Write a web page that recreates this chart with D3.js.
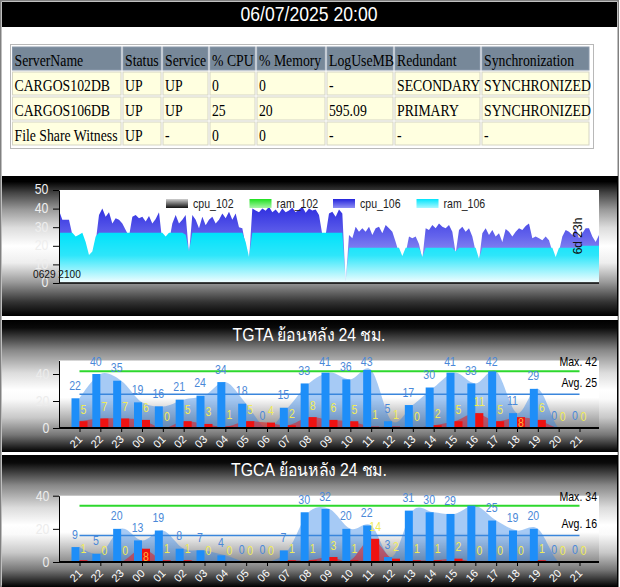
<!DOCTYPE html>
<html><head><meta charset="utf-8">
<script src="https://cdn.jsdelivr.net/npm/d3@7"></script>
<style>html,body{margin:0;padding:0;background:#fff;overflow:hidden}</style>
</head><body>
<svg id="c" width="620" height="587"></svg>
<script>
// ---------------- DATA ----------------
const titleText = "06/07/2025 20:00";
const tableHeaders = ["ServerName","Status","Service","% CPU","% Memory","LogUseMB","Redundant","Synchronization"];
const serverNames = ["CARGOS102DB","CARGOS106DB","File Share Witness"];
const statusCol = ["UP","UP","UP"];
const serviceCol = ["UP","UP","-"];
const cpuCol = ["0","25","0"];
const memCol = ["0","20","0"];
const logCol = ["-","595.09","-"];
const redundantCol = ["SECONDARY","PRIMARY","-"];
const syncCol = ["SYNCHRONIZED","SYNCHRONIZED","-"];

const trendLegend = ["cpu_102","ram_102","cpu_106","ram_106"];
const trendYTicks = [0,10,20,30,40,50];
const trendStartLabel = "0629 2100";
const trendSpanLabel = "6d 23h";
const cpu106 = [
  39,34,34,34,26,22,22,20,18,13,
  15,22,36.6,40,35.6,38,32,34.8,34,32,
  28.5,25,35.6,36.6,34.8,35.6,33,36,32,34.4,
  38,22,21,22,32,36.6,32,34,36.6,16,
  36.6,34,29.4,35.6,31,34,35.6,32,34,37.4,
  34.8,38.3,34,37.4,30,29.4,20,12,40,39,
  38,40,38.8,41,38,39.5,37.4,40,38,39,
  40.5,38,39.5,41,37.8,40,39,39.5,36.6,26,
  26,37.4,38.3,35.6,39.5,37.4,0.5,25.8,24,30.3,
  27.6,29.4,27.6,30.3,25.8,29.4,30.3,26.7,31.2,29.4,
  27.6,22,16,14,16,25,24,25,21,13,
  29.4,28.5,31.2,29.4,32,30.3,29.4,31.2,27.6,16,
  28.5,30.3,27.6,29.4,25,17,12,26.7,29.4,25.8,
  28.5,25,26.7,22,29,27.6,25,27.6,29.4,28.5,
  30.7,32,24,25,24,23,25,23,17,13,
  17,25,28.5,27.6,25.8,29.4,24,26.7,29.4,29.4,
  25,22,25.8
];
const ram106 = [
  27,27,27,27,27,25,26,27,22,15,
  17,25,27,27,27,27,27,27,27,27,
  27,27,27,27,27,27,27,27,27,27,
  27,27,25,27,27,27,27,27,26,17,
  27,27,27,27,27,27,27,27,27,27,
  27,27,27,27,27,27,22,14,27,27,
  27,27,27,27,27,27,27,27,27,27,
  27,27,27,27,27,27,27,27,27,27,
  27,27,27,27,27,27,1,19,19,19,
  19,19,19,19,19,19,19,19,19,19,
  19,19,19,14.5,19,19,19,19,19,14,
  19,19,19,19,19,19,19,19,19,17,
  19,19,19,19,19,19,13,19,19,19,
  19,19,19,19,19,19,19,19,19,19,
  19,19,19,19,19,19,19,19,19,14,
  19,19,19,19,19,19,19,20,20,20,
  20,20,20
];

const hours = ["21","22","23","00","01","02","03","04","05","06","07","08","09","10","11","12","13","14","15","16","17","18","19","20","21"];
const hourYTicks = [0,20,40];

const tgtaTitle = "TGTA ย้อนหลัง 24 ชม.";
const tgtaBlue = [22,40,35,19,16,21,24,34,18,0,15,33,41,36,43,5,17,30,41,33,42,11,29,0,0];
const tgtaRed  = [5,7,7,6,0,5,3,1,5,4,2,8,6,5,1,1,0,2,5,11,5,8,6,0,0];
const tgtaMax = 42, tgtaAvg = 25;

const tgcaTitle = "TGCA ย้อนหลัง 24 ชม.";
const tgcaBlue = [9,5,20,13,19,8,7,4,0,0,7,30,32,20,22,3,31,30,29,34,25,19,20,0,0];
const tgcaRed  = [1,0,0,8,1,1,0,0,0,0,1,1,3,1,14,2,1,1,2,0,0,0,1,0,0];
const tgcaMax = 34, tgcaAvg = 16;

// ---------------- DRAW ----------------
const FF = "'Liberation Sans', Arial, 'Noto Sans', sans-serif";
const SERIF = "'Liberation Serif', 'Times New Roman', serif";
const SX = 0.88;
const svg = d3.select("#c");
const defs = svg.append("defs");

function vgrad(id, stops, box) {
  const g = defs.append("linearGradient").attr("id", id)
    .attr("x1", 0).attr("x2", 0).attr("y1", box ? box[0] : 0).attr("y2", box ? box[1] : 1);
  if (box) g.attr("gradientUnits", "userSpaceOnUse");
  stops.forEach(s => g.append("stop").attr("offset", s[0]).attr("stop-color", s[1]));
}
function label(g, x, y, s, o = {}) {
  return g.append("text")
    .attr("transform", `translate(${x},${y}) scale(${o.sx ?? SX},1)`)
    .attr("font-family", o.ff || FF)
    .attr("font-size", o.fs || 12)
    .attr("fill", o.fill || "#000")
    .attr("text-anchor", o.anchor || "start")
    .text(s);
}

vgrad("panel1", [[0,"#000"],[0.04,"#000"],[0.12,"#444"],[0.24,"#999"],[0.37,"#ddd"],[0.5,"#fff"],[0.62,"#eee"],[0.76,"#999"],[0.9,"#333"],[1,"#000"]]);
vgrad("panel2", [[0,"#000"],[0.06,"#0a0a0a"],[0.23,"#888"],[0.4,"#dcdcdc"],[0.53,"#fff"],[0.6,"#fafafa"],[0.74,"#c8c8c8"],[0.87,"#777"],[1,"#000"]]);
vgrad("plotGrad", [[0,"#fff"],[0.55,"#fff"],[1,"#8c8c8c"]]);

// page & title
svg.append("rect").attr("width",620).attr("height",587).attr("fill","#fff");
svg.append("rect").attr("x",0.75).attr("y",0.75).attr("width",617.5).attr("height",585.5)
  .attr("fill","none").attr("stroke","#808080").attr("stroke-width",1.5);
svg.append("rect").attr("x",2).attr("y",2).attr("width",615).attr("height",25).attr("fill","#000");
label(svg, 309, 21, titleText, {fs:20, fill:"#fff", anchor:"middle"});

// table
const colEdges = [12.5,123,163,210,257,327,395,482,591];
const rowTops = [47,72,97,122];
const tableRows = [tableHeaders].concat(serverNames.map((n,i) =>
  [n, statusCol[i], serviceCol[i], cpuCol[i], memCol[i], logCol[i], redundantCol[i], syncCol[i]]));
const tg = svg.append("g");
tg.append("rect").attr("x",10.5).attr("y",44.5).attr("width",583).attr("height",104)
  .attr("fill","#fff").attr("stroke","#b8b8b8");
tableRows.forEach((row, r) => {
  row.forEach((cell, c) => {
    const x0 = colEdges[c], w = colEdges[c+1] - colEdges[c] - 2;
    tg.append("rect").attr("x", x0).attr("y", rowTops[r]).attr("width", w).attr("height", 23)
      .attr("fill", r === 0 ? "#778899" : "#ffffe0")
      .attr("stroke", r === 0 ? "#8a98aa" : "#d4d4c4").attr("stroke-width", 1);
    label(tg, x0 + 2, rowTops[r] + 18.5, cell, {ff: SERIF, fs: 16, fill: "#000", sx: 0.86});
  });
});

// ---------------- trend chart ----------------
(function trend() {
  const g = svg.append("g");
  const top = 176, pTop = 190, pBot = 283, pL = 59, pR = 599;
  g.append("rect").attr("x",2).attr("y",top).attr("width",615).attr("height",140).attr("fill","url(#panel1)");
  g.append("line").attr("x1",617.5).attr("x2",617.5).attr("y1",top).attr("y2",top+140).attr("stroke","#000");
  g.append("rect").attr("x",pL).attr("y",pTop).attr("width",pR-pL).attr("height",pBot-pTop).attr("fill","#fff");
  const tx = d3.scaleLinear().domain([0, cpu106.length - 1]).range([pL, pR]);
  const ty = d3.scaleLinear().domain([0, 50]).range([pBot, pTop]);
  vgrad("cpuGrad", [[0,"#1010d8"],[0.5,"#6464ec"],[1,"#c8c8ff"]], [ty(50), ty(0)]);
  vgrad("ramGrad", [[0,"#00e2fa"],[0.45,"#2ee6fa"],[1,"#f4feff"]], [ty(27), ty(0)]);
  const area = d3.area().x((d,i) => tx(i)).y0(ty(0)).y1(d => ty(d));
  g.append("path").datum(cpu106).attr("d", area).attr("fill","url(#cpuGrad)");
  g.append("path").datum(ram106).attr("d", area).attr("fill","url(#ramGrad)");

  const ya = d3.axisLeft(ty).tickValues(trendYTicks).tickSize(6).tickSizeOuter(0);
  const gy = g.append("g").attr("transform",`translate(${pL},0)`).call(ya);
  gy.select(".domain").attr("stroke","#000");
  gy.selectAll(".tick line").attr("stroke","#000");
  gy.selectAll("text").attr("fill","#eee").attr("font-size",14).attr("font-family",FF)
    .attr("x",-12).attr("dy","0.28em").attr("transform","scale(0.88,1)");
  g.append("line").attr("x1",pL).attr("x2",pR).attr("y1",pBot).attr("y2",pBot).attr("stroke","#000").attr("stroke-width",1.5);

  // legend
  const legCols = [["#cfcfcf","#111"],["#1ee01e","#a8f5a8"],["#2424dc","#9090f4"],["#00e4fc","#a8f8ff"]];
  trendLegend.forEach((name, i) => {
    const lx = 166 + i * 83.5;
    vgrad("leg" + i, [[0, legCols[i][0]],[1, legCols[i][1]]]);
    g.append("rect").attr("x", lx).attr("y", 199).attr("width", 22).attr("height", 9).attr("fill", `url(#leg${i})`);
    label(g, lx + 27, 207.5, name, {fs:12, fill:"#222"});
  });
  label(g, 33, 278, trendStartLabel, {fs:11.5, fill:"#111"});
  g.append("text").attr("transform","translate(582,236) rotate(-90)").attr("text-anchor","middle")
    .attr("font-family",FF).attr("font-size",12).attr("fill","#111").text(trendSpanLabel);
})();

// ---------------- hourly charts ----------------
function hourChart(cfg) {
  const {id, top, pTop, pBot, yMax, title, blue, red, maxV, avgV, hideBlue} = cfg;
  const pL = 59, pR = 599;
  const g = svg.append("g");
  g.append("rect").attr("x",2).attr("y",top).attr("width",615).attr("height",132).attr("fill","url(#panel2)");
  g.append("line").attr("x1",617.5).attr("x2",617.5).attr("y1",top).attr("y2",top+132).attr("stroke","#000");
  g.append("rect").attr("x",pL).attr("y",pTop).attr("width",pR-pL).attr("height",pBot-pTop).attr("fill","url(#plotGrad)");
  label(g, 309, top + 21, title, {fs:18, fill:"#fff", anchor:"middle"});

  const x = d3.scalePoint().domain(d3.range(hours.length)).range([79.5, 579.5]);
  const y = d3.scaleLinear().domain([0, yMax]).range([pBot, pTop]);

  defs.append("clipPath").attr("id","clip"+id).append("rect")
    .attr("x",pL).attr("y",pTop).attr("width",pR-pL).attr("height",pBot-pTop);
  const area = d3.area().x((d,i) => x(i)).y0(pBot).y1(d => y(d)).curve(d3.curveCardinal.tension(0));
  g.append("path").datum(blue).attr("d",area).attr("fill","#2a80e8").attr("fill-opacity",0.42).attr("clip-path",`url(#clip${id})`);
  g.append("path").datum(red).attr("d",area).attr("fill","#f01010").attr("fill-opacity",0.5).attr("clip-path",`url(#clip${id})`);

  const n = hours.length;
  g.append("line").attr("x1",x(0)).attr("x2",x(n-1)).attr("y1",y(maxV)).attr("y2",y(maxV))
    .attr("stroke","#2ed82e").attr("stroke-width",2);
  g.append("line").attr("x1",x(0)).attr("x2",x(n-1)).attr("y1",y(avgV)).attr("y2",y(avgV))
    .attr("stroke","#3a86dc").attr("stroke-width",1.5);

  g.selectAll(".bb").data(blue).join("rect").attr("class","bb")
    .attr("x",(d,i) => x(i) - 8).attr("y", d => y(d)).attr("width",8).attr("height", d => pBot - y(d))
    .attr("fill","#1e8ef8");
  g.selectAll(".rb").data(red).join("rect").attr("class","rb")
    .attr("x",(d,i) => x(i)).attr("y", d => y(d)).attr("width",8).attr("height", d => pBot - y(d))
    .attr("fill","#ee1212");

  // axes
  const ya = d3.axisLeft(y).tickValues(hourYTicks).tickSize(6).tickSizeOuter(0);
  const gy = g.append("g").attr("transform",`translate(${pL},0)`).call(ya);
  gy.select(".domain").attr("stroke","#000");
  gy.selectAll(".tick line").attr("stroke","#000");
  gy.selectAll("text").attr("fill","#ececec").attr("font-size",14).attr("font-family",FF)
    .attr("x",-11).attr("transform","scale(0.88,1)");

  const xa = d3.axisBottom(x).tickFormat(i => hours[i]).tickSize(4).tickSizeOuter(0);
  const gx = g.append("g").attr("transform",`translate(0,${pBot})`).call(xa);
  gx.select(".domain").remove();
  gx.selectAll(".tick line").attr("stroke","#000");
  gx.selectAll("text").attr("y",0).attr("dy",0).attr("text-anchor","end")
    .attr("transform","translate(3,12) rotate(-45)")
    .attr("fill","#fff").attr("font-size",11).attr("font-family",FF);
  g.append("line").attr("x1",pL).attr("x2",pR).attr("y1",pBot).attr("y2",pBot).attr("stroke","#000").attr("stroke-width",2);

  // value labels
  blue.forEach((b, i) => {
    const r = red[i];
    const bBase = Math.max(y(b) - 8.5, pTop + 5.5);
    let rBase = y(r) - 7.5, inside = false;
    const bl = String(b).length, rl = String(r).length;
    if (Math.abs(bBase - rBase) < 12 && (bl + rl) * 3.5 > 8) { rBase = pBot - 1; inside = true; }
    if (!hideBlue.includes(i)) label(g, x(i) - 4.5, bBase, String(b), {fs:12, fill:"#4a88d8", anchor:"middle"});
    label(g, x(i) + 4, rBase, String(r), {fs:12, fill: inside ? "#ffb43a" : "#f0ec58", anchor:"middle"});
  });

  label(g, 597, y(maxV) - 5, "Max. " + maxV, {fs:12, fill:"#000", anchor:"end"});
  label(g, 597, y(avgV) - 7, "Avg. " + avgV, {fs:12, fill:"#000", anchor:"end"});
}

hourChart({id:"a", top:320, pTop:360.5, pBot:428, yMax:50, title:tgtaTitle,
  blue:tgtaBlue, red:tgtaRed, maxV:tgtaMax, avgV:tgtaAvg, hideBlue:[]});
hourChart({id:"b", top:455, pTop:495.7, pBot:562, yMax:40, title:tgcaTitle,
  blue:tgcaBlue, red:tgcaRed, maxV:tgcaMax, avgV:tgcaAvg, hideBlue:[19]});
</script>
</body></html>
